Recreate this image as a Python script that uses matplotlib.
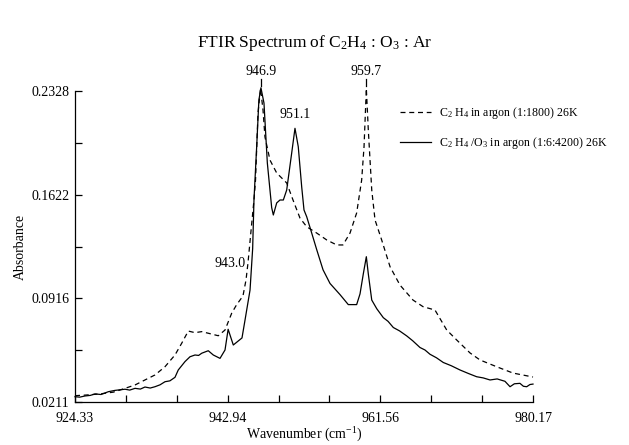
import numpy as np
import matplotlib
matplotlib.use("Agg")
import matplotlib.pyplot as plt

plt.rcParams['font.family'] = 'Liberation Serif'
plt.rcParams['mathtext.fontset'] = 'custom'
plt.rcParams['mathtext.rm'] = 'Liberation Serif'
plt.rcParams['mathtext.it'] = 'Liberation Serif:italic'
plt.rcParams['mathtext.default'] = 'rm'

# C2H4 in argon (dashed)
wn_c2h4 = [924.33, 925.6, 927.38, 929.0, 930.43, 931.65, 932.86, 934.08, 935.30, 936.52,
           937.34, 938.14, 938.96, 939.78, 940.58, 941.80, 942.62, 943.43, 944.0,
           944.81, 945.18, 945.42, 945.80, 946.15, 946.34, 946.64, 946.95,
           947.25, 947.49, 948.10, 948.92, 950.14, 950.91, 951.76, 952.58, 953.80,
           955.02, 956.24, 957.00, 957.86, 958.67, 959.28, 959.57, 959.85,
           960.09, 960.51, 960.91, 961.72, 962.74, 963.95, 965.54, 966.76, 968.22,
           969.65, 970.87, 972.49, 973.71, 975.74, 977.73, 980.17]
ab_c2h4 = [0.0254, 0.0258, 0.0266, 0.0278, 0.0304, 0.0327, 0.0361, 0.0395, 0.0451, 0.0531,
           0.0611, 0.0694, 0.0683, 0.0690, 0.0679, 0.0662, 0.0701, 0.0815, 0.0870,
           0.0933, 0.1042, 0.1157, 0.1382, 0.1586, 0.1722, 0.2178, 0.2345,
           0.2200, 0.2015, 0.1858, 0.1770, 0.1702, 0.1586, 0.1463, 0.1404, 0.1361,
           0.1314, 0.1280, 0.1280, 0.1361, 0.1498, 0.1722, 0.1949, 0.2345,
           0.2063, 0.1654, 0.1450, 0.1314, 0.1132, 0.1007, 0.0905, 0.0860, 0.0837,
           0.0701, 0.0633, 0.0545, 0.0497, 0.0451, 0.0408, 0.0381]

# C2H4/O3 in argon (solid)
wn_mix = [924.33, 924.9, 925.55, 926.2, 926.77, 927.5, 928.39, 929.2, 930.43, 931.0,
          931.65, 932.3, 932.86, 933.5, 934.08, 934.7, 935.30, 935.9, 936.52, 936.92,
          937.74, 938.35, 938.96, 939.4, 939.78, 940.2, 940.58, 941.19, 942.01, 942.62,
          943.0, 943.63, 944.69, 945.06, 945.67, 945.99, 946.15, 946.48, 946.75, 947.0,
          947.37, 947.78, 948.31, 948.51, 948.92, 949.32, 949.73, 950.14, 950.75, 951.15,
          951.55, 951.97, 952.25, 952.58, 953.19, 953.80, 954.57, 955.42, 956.64, 957.65,
          958.67, 959.08, 959.48, 959.85, 960.09, 960.51, 961.12, 961.92, 962.5, 963.14,
          963.9, 964.77, 965.5, 966.39, 967.0, 967.61, 968.4, 969.23, 970.2, 971.27,
          972.3, 973.30, 974.1, 974.93, 975.8, 976.75, 977.37, 977.9, 978.58, 979.0,
          979.40, 979.8, 980.17]
ab_mix = [0.0247, 0.0244, 0.0252, 0.0256, 0.0266, 0.0262, 0.0281, 0.0290, 0.0298, 0.0292,
          0.0304, 0.0299, 0.0313, 0.0306, 0.0315, 0.0328, 0.0349, 0.0355, 0.0379, 0.0429,
          0.0486, 0.0519, 0.0531, 0.0528, 0.0543, 0.0552, 0.0560, 0.0531, 0.0508, 0.0565,
          0.0706, 0.0599, 0.0647, 0.0769, 0.0973, 0.1255, 0.1586, 0.1949, 0.2267, 0.2350,
          0.2246, 0.1838, 0.1534, 0.1484, 0.1566, 0.1586, 0.1586, 0.1654, 0.1906, 0.2074,
          0.1949, 0.1675, 0.1518, 0.1472, 0.1361, 0.1248, 0.1111, 0.1018, 0.0942, 0.0874,
          0.0874, 0.0947, 0.1083, 0.1200, 0.1083, 0.0905, 0.0846, 0.0785, 0.0760, 0.0718,
          0.0695, 0.0661, 0.0628, 0.0582, 0.0565, 0.0536, 0.0512, 0.0480, 0.0458, 0.0429,
          0.0405, 0.0383, 0.0375, 0.0361, 0.0368, 0.0352, 0.0315, 0.0335, 0.0338, 0.0318,
          0.0315, 0.0330, 0.0333]

xticks = [924.33, 930.53, 936.74, 942.94, 949.15, 955.35, 961.56, 967.76, 973.97, 980.17]
xlabels = ['924.33', '', '', '942.94', '', '', '961.56', '', '', '980.17']
yticks = [0.0211, 0.0564, 0.0916, 0.1269, 0.1622, 0.1975, 0.2328]
ylabels = ['0.0211', '', '0.0916', '', '0.1622', '', '0.2328']

peak_pos = [947.0, 959.85]
peak_txt = ['946.9', '959.7']

fig = plt.figure(figsize=(6.29, 4.45), dpi=100)
ax = fig.add_axes([75/629, 43/445, 458/629, 311/445])

ax.plot(wn_c2h4, ab_c2h4, color='black', lw=0.9, ls=(0, (4, 3)), clip_on=False,
        label='C$_2$ H$_4$ in argon (1:1800) 26K')
ax.plot(wn_mix, ab_mix, color='black', lw=0.9, clip_on=False,
        label='C$_2$ H$_4$ /O$_3$ in argon (1:6:4200) 26K')

ax.set_xlim(924.33, 980.17)
ax.set_ylim(0.0211, 0.2328)
ax.set_xticks(xticks)
ax.set_xticklabels(xlabels)
ax.set_yticks(yticks)
ax.set_yticklabels(ylabels)
ax.tick_params(direction='in', length=5, width=0.9, labelsize=10, pad=4)
ax.tick_params(axis='x', pad=7)
for s in ['top', 'right']:
    ax.spines[s].set_visible(False)
for s in ['left', 'bottom']:
    ax.spines[s].set_linewidth(0.9)

for x, t in zip(peak_pos, peak_txt):
    ax.plot([x, x], [0.2362, 0.2412], color='black', lw=0.9, clip_on=False)
    ax.text(x, 0.2418, t, ha='center', va='bottom', fontsize=10)
ax.text(951.15, 0.2125, '951.1', ha='center', va='bottom', fontsize=10)
ax.text(945.1, 0.1157, '943.0', ha='right', va='center', fontsize=10)

ax.set_xlabel('Wavenumber (cm$^{-1}$)', fontsize=10, labelpad=1)
ax.set_ylabel('Absorbance', fontsize=10, labelpad=3)

fig.text(0.5, 1 - 43/445, 'FTIR Spectrum of C$_2$H$_4$ : O$_3$ : Ar', ha='center',
         va='center', fontsize=12.5)

fig.legend(loc='upper left', bbox_to_anchor=(400/629, 1 - 105/445), frameon=False,
           fontsize=8.6, handlelength=2.6, handletextpad=0.7, labelspacing=1.15,
           borderpad=0, borderaxespad=0)

fig.savefig('out.png', dpi=100)
